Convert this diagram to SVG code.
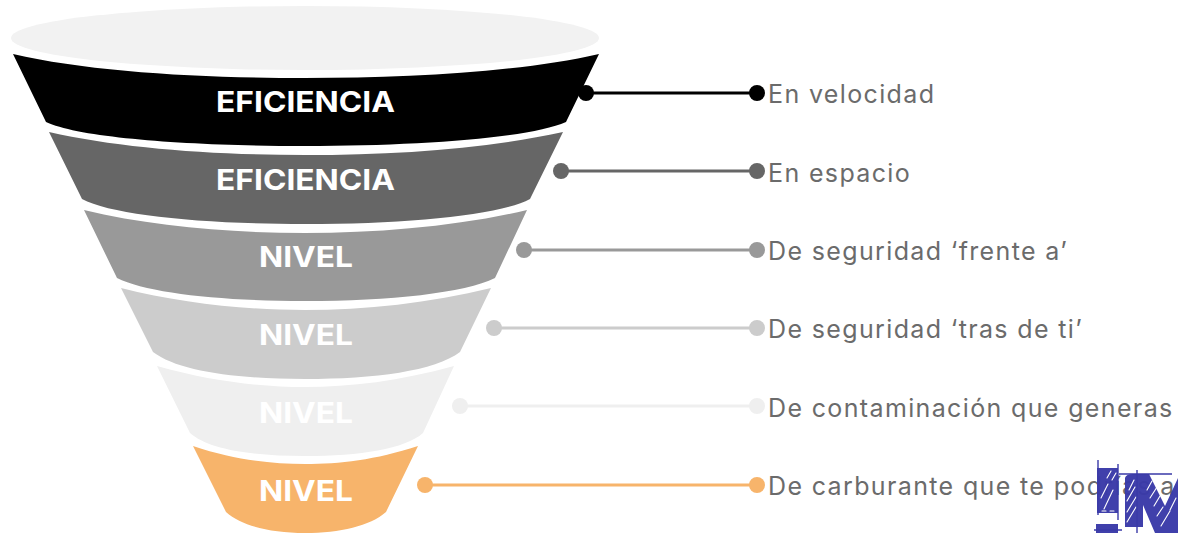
<svg xmlns="http://www.w3.org/2000/svg" width="1178" height="533" viewBox="0 0 1178 533">
<style>
.l{font-family:"Inter","Noto Sans",sans-serif;font-weight:700;font-size:29px;fill:#fff;text-anchor:middle}
.t{font-family:"Inter","Noto Sans",sans-serif;font-size:25px;fill:#6b6b6b;letter-spacing:1.36px}
.c{fill:none;stroke-width:3}
.s{fill:none;stroke:#fff;stroke-width:1.1;stroke-linecap:round}
.b{fill:#3a3aa8;fill-opacity:.97}
.bl{fill:none;stroke:#3a3aa8;stroke-width:1.4}
</style>
<rect width="1178" height="533" fill="#fff"/>
<g id="top"><ellipse cx="305" cy="38" rx="294" ry="32" fill="#f2f2f2"/></g>
<g id="seg1"><path d="M13 54C90 72 200 78 305 78S520 72 599 54L566 122C530 138 420 146 305 146S80 138 46 122Z" fill="#000"/><text class="l" x="305.500" y="112" textLength="179" lengthAdjust="spacingAndGlyphs">EFICIENCIA</text></g>
<g id="seg2"><path d="M49 132C120 148 210 155 305 155S490 148 563 132L530 199C500 215 410 224 305 224S112 215 82 199Z" fill="#666"/><text class="l" x="305.500" y="190" textLength="179" lengthAdjust="spacingAndGlyphs">EFICIENCIA</text></g>
<g id="seg3"><path d="M84 210C150 226 230 233 305 233S460 226 527 210L495 278C465 293 390 301 305 301S147 293 117 278Z" fill="#999"/><text class="l" x="306" y="267" textLength="94" lengthAdjust="spacingAndGlyphs">NIVEL</text></g>
<g id="seg4"><path d="M121 288C180 303 245 310 305 310S430 303 491 288L460 352C435 371 375 379 305 379S178 371 153 352Z" fill="#ccc"/><text class="l" x="306" y="345" textLength="94" lengthAdjust="spacingAndGlyphs">NIVEL</text></g>
<g id="seg5"><path d="M157 366C210 381 260 387 305 387S400 381 454 366L423 433C405 449 360 456 305 456S208 449 190 433Z" fill="#efefef"/><text class="l" x="306" y="423" textLength="94" lengthAdjust="spacingAndGlyphs">NIVEL</text></g>
<g id="seg6"><path d="M193 446C235 460 270 464 305 464S375 460 418 446L386 512C370 526 340 533 305 533S242 526 226 512Z" fill="#f7b46b"/><text class="l" x="306" y="501" textLength="94" lengthAdjust="spacingAndGlyphs">NIVEL</text></g>
<g id="connectors">
<g stroke="#000" fill="#000"><path class="c" d="M586 93H757"/><circle cx="586" cy="93" r="8" stroke="none"/><circle cx="757" cy="93" r="8" stroke="none"/></g>
<g stroke="#666" fill="#666"><path class="c" d="M561 171H757"/><circle cx="561" cy="171" r="8" stroke="none"/><circle cx="757" cy="171" r="8" stroke="none"/></g>
<g stroke="#999" fill="#999"><path class="c" d="M524 250H757"/><circle cx="524" cy="250" r="8" stroke="none"/><circle cx="757" cy="250" r="8" stroke="none"/></g>
<g stroke="#ccc" fill="#ccc"><path class="c" d="M494 328H757"/><circle cx="494" cy="328" r="8" stroke="none"/><circle cx="757" cy="328" r="8" stroke="none"/></g>
<g stroke="#efefef" fill="#efefef"><path class="c" d="M460 406H757"/><circle cx="460" cy="406" r="8" stroke="none"/><circle cx="757" cy="406" r="8" stroke="none"/></g>
<g stroke="#f7b46b" fill="#f7b46b"><path class="c" d="M425 485H757"/><circle cx="425" cy="485" r="8" stroke="none"/><circle cx="757" cy="485" r="8" stroke="none"/></g>
</g>
<g id="labels">
<text class="t" x="768" y="103">En velocidad</text>
<text class="t" x="768" y="182">En espacio</text>
<text class="t" x="768" y="260">De seguridad ‘frente a’</text>
<text class="t" x="768" y="338">De seguridad ‘tras de ti’</text>
<text class="t" x="768" y="417">De contaminación que generas</text>
<text class="t" x="768" y="495">De carburante que te podrías a</text>
</g>
<g id="logo">
<path class="b" d="M1097 468H1118V513H1097ZM1096 524H1118V533H1096ZM1125 478Q1126 474 1133 474H1149L1165 506L1178 478V533H1155L1143 505V527H1125Z"/>
<path class="s" d="M1104 509L1113 490M1101 498L1108 484M1107 478L1111 471M1112 480L1116 473M1102 511H1106M1110 511H1114M1129 490L1134 480M1127 501L1135 487M1127 512L1136 497M1127 522L1136 507M1147 490L1152 481M1150 498L1157 487M1154 506L1160 496M1157 516L1163 507M1161 526L1170 511M1170 510L1176 498"/>
<path class="bl" d="M1098 460V515M1119 474H1172M1137 470V533M1094 530H1122M1118 464V520"/>
</g>
</svg>
